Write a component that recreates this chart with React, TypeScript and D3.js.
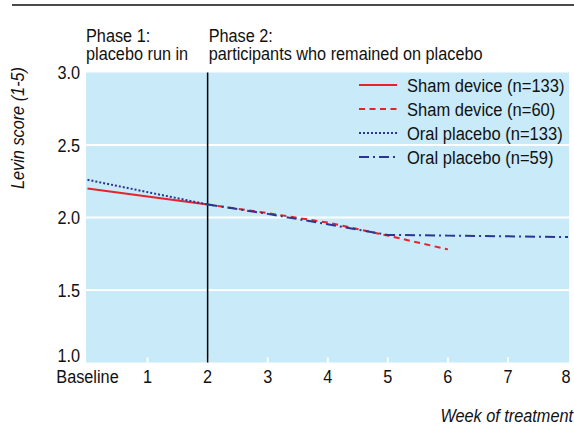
import React from "react";
import * as d3 from "d3";

// weeks on the x axis (0 = baseline)
const weekTicks = [0, 1, 2, 3, 4, 5, 6, 7, 8];
const weekLabels = ["Baseline", "1", "2", "3", "4", "5", "6", "7", "8"];
const scoreTicks = [1.0, 1.5, 2.0, 2.5, 3.0];

// phase 1 (run in)
const shamRunWeeks = [0, 2];
const shamRunScores = [2.2, 2.09];
const oralRunWeeks = [0, 2];
const oralRunScores = [2.26, 2.09];

// phase 2 (remained on placebo)
const shamKeepWeeks = [2, 3, 4, 5, 6];
const shamKeepScores = [2.09, 2.03, 1.965, 1.875, 1.78];
const oralKeepWeeks = [2, 3, 4, 5, 6, 7, 8];
const oralKeepScores = [2.09, 2.025, 1.953, 1.88, 1.875, 1.87, 1.865];

const seriesNames = [
  "Sham device (n=133)",
  "Sham device (n=60)",
  "Oral placebo (n=133)",
  "Oral placebo (n=59)",
];

const RED = "#e8212b";
const BLUE = "#2b3690";
const FONT = "'Liberation Sans', Arial, sans-serif";
const FS = 18.5;
const SQUEEZE = 0.88; // condensed look

// condensed text: squeeze horizontally around its anchor
function T(props: { x: number; y: number; anchor?: string; italic?: boolean; rotate?: number; fs?: number; sx?: number; children: any }) {
  const { x, y, anchor = "start", italic = false, rotate = 0, fs = FS, sx = SQUEEZE, children } = props;
  return (
    <text transform={`translate(${x},${y}) rotate(${rotate}) scale(${sx},1)`} textAnchor={anchor}
      fontSize={fs} fontStyle={italic ? "italic" : "normal"} fill="#111">
      {children}
    </text>
  );
}

export default function App() {
  const left = 86, right = 569, top = 72.5, bottom = 362.5;
  const x = d3.scaleLinear().domain([0, 8]).range([87.5, 568]);
  const y = d3.scaleLinear().domain([1, 3]).range([bottom, top]);

  const path = (wk: number[], sc: number[]) =>
    d3.line<number>().x((d) => x(d)).y((_, i) => y(sc[i]))(wk) || "";

  const series = [
    { wk: shamRunWeeks, sc: shamRunScores, color: RED, dash: "" },
    { wk: shamKeepWeeks, sc: shamKeepScores, color: RED, dash: "6 4.5" },
    { wk: oralRunWeeks, sc: oralRunScores, color: BLUE, dash: "2 2" },
    { wk: oralKeepWeeks, sc: oralKeepScores, color: BLUE, dash: "10 4 2 4" },
  ];

  return (
    <svg width={574} height={425} style={{ display: "block", position: "absolute", left: 0, top: 0 }}
      fontFamily={FONT}>
      <rect x={0} y={0} width={574} height={425} fill="#fff" />
      <line x1={12} x2={574} y1={5} y2={5} stroke="#4a4a4a" strokeWidth={2} />

      <rect x={left} y={top} width={right - left} height={bottom - top} fill="#c8eaf9" />
      {scoreTicks.filter((t) => t > 1 && t < 3).map((t) => (
        <line key={t} x1={left} x2={right} y1={y(t)} y2={y(t)} stroke="#fff" strokeWidth={2} />
      ))}
      {weekTicks.filter((w) => w > 0 && w < 8).map((w) => (
        <line key={w} x1={x(w)} x2={x(w)} y1={bottom} y2={bottom - 5} stroke="#fff" strokeWidth={2} />
      ))}

      <line x1={x(2)} x2={x(2)} y1={top} y2={bottom} stroke="#000" strokeWidth={1.5} />

      {series.map((s, i) => (
        <path key={i} d={path(s.wk, s.sc)} fill="none" stroke={s.color} strokeWidth={2}
          strokeDasharray={s.dash || undefined} />
      ))}

      {scoreTicks.map((t) => (
        <T key={t} x={80} y={y(t) + (t === 1 ? -0.5 : 6.5)} anchor="end">{t.toFixed(1)}</T>
      ))}
      {weekTicks.map((w, i) => (
        <T key={w} x={i === 8 ? 566 : x(w)} y={383} anchor="middle">{weekLabels[i]}</T>
      ))}

      <T x={86} y={42}>Phase 1:</T>
      <T x={86} y={60}>placebo run in</T>
      <T x={x(2) + 1} y={42}>Phase 2:</T>
      <T x={x(2) + 1} y={60}>participants who remained on placebo</T>

      <T x={24} y={128} rotate={-90} anchor="middle" italic>Levin score (1-5)</T>
      <T x={573} y={422} anchor="end" italic>Week of treatment</T>

      {seriesNames.map((n, i) => {
        const ly = 85 + i * 24;
        return (
          <g key={n}>
            <line x1={359} x2={397} y1={ly} y2={ly} stroke={series[i].color} strokeWidth={2}
              strokeDasharray={series[i].dash || undefined} />
            <T x={407} y={ly + 7} fs={19} sx={0.87}>{n}</T>
          </g>
        );
      })}
    </svg>
  );
}
